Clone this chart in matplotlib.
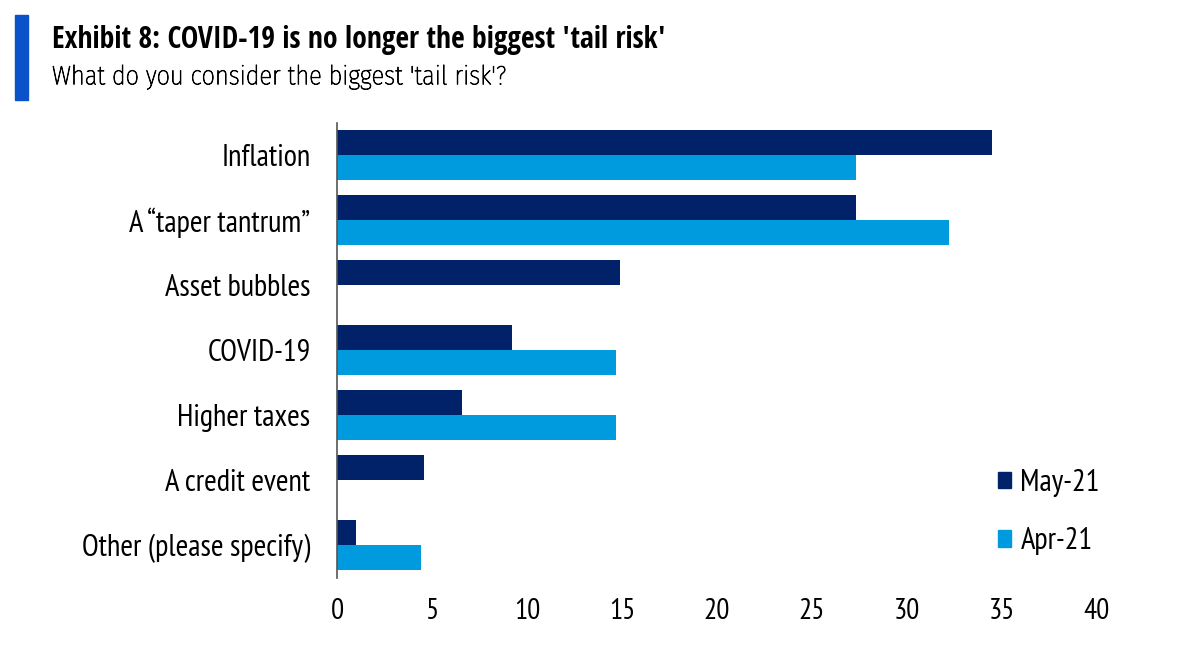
import matplotlib
matplotlib.use('Agg')
import matplotlib.pyplot as plt
import matplotlib.patheffects as pe
from matplotlib.patches import Patch, Rectangle
from matplotlib import font_manager
import numpy as np

# ---------------------------------------------------------------------------
# Data
# ---------------------------------------------------------------------------
categories = ['Inflation', 'A \u201ctaper tantrum\u201d', 'Asset bubbles', 'COVID-19',
              'Higher taxes', 'A credit event', 'Other (please specify)']
may_21 = [34.5, 27.3, 14.9, 9.2, 6.6, 4.6, 1.0]
apr_21 = [27.3, 32.2, 0.0, 14.7, 14.7, 0.0, 4.4]
series_labels = ['May-21', 'Apr-21']
xticks = [0, 5, 10, 15, 20, 25, 30, 35, 40]

NAVY = '#012169'
CYAN = '#009ADE'


def pick(cands, max_weight=1000):
    # first candidate family that has a face no heavier than max_weight
    faces = font_manager.fontManager.ttflist
    for c in cands:
        if any(f.name == c and f.weight <= max_weight for f in faces):
            return c
    return 'Liberation Sans'


narrow = pick(['Liberation Sans Narrow', 'Arial Narrow', 'PT Sans Narrow',
               'Archivo Narrow', 'Roboto Condensed', 'Liberation Sans'])
cond = pick(['Open Sans Condensed', 'Fira Sans Condensed', 'IBM Plex Sans Condensed',
             'Roboto Condensed', 'Open Sans'])
cond_light = pick(['Open Sans Condensed Light', 'Open Sans Condensed', 'Fira Sans Condensed',
                   'IBM Plex Sans Condensed', 'Roboto Condensed', 'Open Sans'],
                  max_weight=400)

fig = plt.figure(figsize=(11.79, 6.53), dpi=100)
ax = fig.add_axes([0.2858, 0.1156, 0.6446, 0.6968])

y = np.arange(len(categories))
h = 0.39
ax.barh(y - h / 2, may_21, height=h, color=NAVY, label=series_labels[0])
ax.barh(y + h / 2, apr_21, height=h, color=CYAN, label=series_labels[1])

ax.set_xlim(0, 40)
ax.set_ylim(len(categories) - 0.5, -0.5)
ax.set_yticks(y)
ax.set_yticklabels(categories, fontfamily=narrow, fontsize=22)
ax.set_xticks(xticks)
ax.set_xticklabels([str(t) for t in xticks], fontfamily=narrow, fontsize=21)
ax.tick_params(axis='y', length=0, pad=19)
ax.tick_params(axis='x', length=0, pad=15)
for s in ['top', 'right', 'bottom']:
    ax.spines[s].set_visible(False)
ax.spines['left'].set_color('#555555')
ax.spines['left'].set_linewidth(1.2)

handles = [Patch(color=NAVY), Patch(color=CYAN)]
leg = ax.legend(handles, series_labels, loc='lower right', bbox_to_anchor=(1.040, -0.012),
                frameon=False, handlelength=0.45, handleheight=0.45,
                handletextpad=0.3, labelspacing=1.0,
                prop={'family': narrow, 'size': 22})

# Title block
fig.add_artist(Rectangle((15 / 1179, 1 - 100 / 653), 13 / 1179, 85 / 653,
                         transform=fig.transFigure, color='#0a52c9'))
fig.text(52 / 1179, 1 - 40 / 653, "Exhibit 8: COVID-19 is no longer the biggest 'tail risk'",
         fontfamily=cond, fontweight='bold', fontsize=21.3, va='center', ha='left')
fig.text(52 / 1179, 1 - 77 / 653, "What do you consider the biggest 'tail risk'?",
         fontfamily=cond_light, fontweight='light', fontsize=19, va='center', ha='left',
         color='#000000',
         path_effects=[pe.withStroke(linewidth=0.6, foreground='#000000')])

fig.savefig('out.png', dpi=100)
